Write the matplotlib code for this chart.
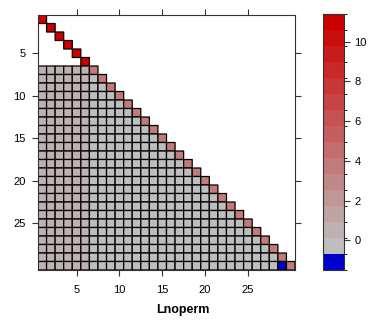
import numpy as np
import matplotlib.pyplot as plt
from matplotlib.colors import ListedColormap, BoundaryNorm, LinearSegmentedColormap

plt.rcParams['font.family'] = ['Liberation Sans', 'DejaVu Sans']

# Values
n_vars = 30
diag_values = [11.4] * 6 + [3.5] * 24      # diagonal cells, rows 1..30
first_cols = [0.6] * 6                      # columns 1..6 below the diagonal
fill_value = 0.0                            # remaining lower-triangle cells
odd_cell = (30, 29, -1.5)                   # (row, col, value) the single blue cell
tick_vals = [5, 10, 15, 20, 25]
cbar_ticks = [0, 2, 4, 6, 8, 10]

# Build lower-triangular matrix
mat = np.full((n_vars, n_vars), np.nan)
for r in range(n_vars):
    for c in range(r):
        if r >= len(first_cols):
            mat[r, c] = first_cols[c] if c < len(first_cols) else fill_value
    mat[r, r] = diag_values[r]
mat[odd_cell[0] - 1, odd_cell[1] - 1] = odd_cell[2]
data = np.ma.masked_invalid(mat)

# 16 equal intervals over the data range: blue, then grey -> red
breaks = np.linspace(data.min(), data.max(), 17)
ramp = LinearSegmentedColormap.from_list('gr', ['#bebebe', '#cc0000'])
colors = ['#0000cc'] + [ramp(i / 14) for i in range(15)]
cmap = ListedColormap(colors)
norm = BoundaryNorm(breaks, cmap.N)

fig = plt.figure(figsize=(3.70, 3.28), dpi=100)
ax = fig.add_axes([38 / 370, 58 / 328, 257 / 370, 255 / 328])
edges = np.arange(n_vars + 1) + 0.5
pc = ax.pcolor(edges, edges, data, cmap=cmap, norm=norm,
               edgecolors='black', linewidth=0.9)
ax.set_xlim(0.5, n_vars + 0.5)
ax.set_ylim(n_vars + 0.5, 0.5)
ax.set_xticks(tick_vals)
ax.set_yticks(tick_vals)
ax.tick_params(direction='out', length=4, width=0.8, labelsize=8,
               top=True, right=True, labeltop=False, labelright=False,
               color='#333333')
ax.tick_params(axis='x', pad=7)
ax.tick_params(axis='y', pad=5)
for s in ax.spines.values():
    s.set_linewidth(0.8)
    s.set_color('#333333')
fig.text(0.493, 1 - 310 / 328, 'Lnoperm', fontsize=9, fontweight='bold',
         ha='center', va='center')

cax = fig.add_axes([323 / 370, 58 / 328, 21 / 370, 256 / 328])
cb = fig.colorbar(pc, cax=cax, boundaries=breaks, ticks=cbar_ticks)
cb.outline.set_linewidth(0.8)
cb.outline.set_edgecolor('#333333')
cax.tick_params(direction='out', length=4, width=0.8, labelsize=8, color='#333333')

fig.savefig('out.png', dpi=100)
